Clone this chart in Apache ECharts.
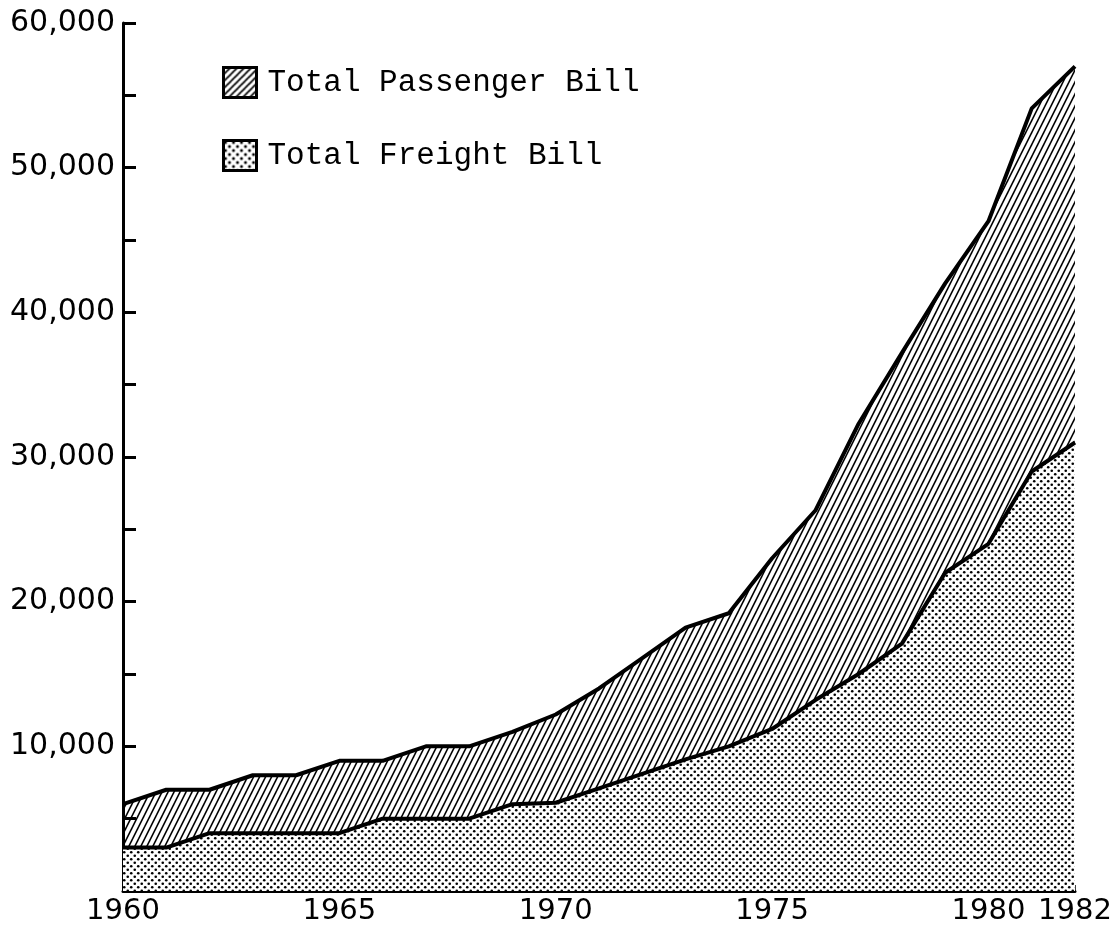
<!DOCTYPE html>
<html>
<head>
<meta charset="utf-8">
<style>
html,body{margin:0;padding:0;background:#fff;}
#chart{width:1119px;height:926px;}
</style>
<script src="https://cdn.jsdelivr.net/npm/echarts@6/dist/echarts.min.js"></script>
</head>
<body>
<div id="chart"></div>
<script>
// ---- data (millions of dollars) ----
const years = ['1960','1961','1962','1963','1964','1965','1966','1967','1968','1969','1970','1971','1972','1973','1974','1975','1976','1977','1978','1979','1980','1981','1982'];
const freightBill = [3000,3000,4000,4000,4000,4000,5000,5000,5000,6000,6100,7100,8100,9100,10000,11200,13200,15000,17100,22000,24000,29000,31000];
const passengerBill = [3000,4000,3000,4000,4000,5000,4000,5000,5000,5000,6100,6900,8000,9100,9200,11800,13100,17300,20100,20000,22300,25100,26000];
const xLabelYears = ['1960','1965','1970','1975','1980','1982'];
const seriesNames = ['Total Passenger Bill','Total Freight Bill'];

// ---- fill patterns ----
function hatchTile(w, h, lw) {
  const c = document.createElement('canvas');
  c.width = w; c.height = h;
  const g = c.getContext('2d');
  g.strokeStyle = '#000'; g.lineWidth = lw; g.lineCap = 'square';
  for (let k = -1; k <= 1; k++) {
    g.beginPath();
    g.moveTo(k * w, h);
    g.lineTo(k * w + w, 0);
    g.stroke();
  }
  return c;
}
function dotTile(s, r) {
  const c = document.createElement('canvas');
  c.width = s; c.height = s;
  const g = c.getContext('2d');
  g.fillStyle = '#fff'; g.fillRect(0, 0, s, s);
  g.fillStyle = '#000';
  [[s/4, s/4], [3*s/4, 3*s/4]].forEach(p => {
    g.beginPath(); g.arc(p[0], p[1], r, 0, Math.PI * 2); g.fill();
  });
  return c;
}
const hatchPlot = { image: hatchTile(6, 12, 1.6), repeat: 'repeat' };
const dotPlot = { image: dotTile(7, 1.3), repeat: 'repeat' };
const hatchLegend = { image: hatchTile(7, 7, 1.7), repeat: 'repeat' };
const dotLegend = { image: dotTile(8, 1.5), repeat: 'repeat' };

const chart = echarts.init(document.getElementById('chart'), null, { renderer: 'canvas' });
const labelFont = 'DejaVu Sans';

chart.setOption({
  animation: false,
  backgroundColor: '#fff',
  grid: { left: 123, right: 44, top: 23, bottom: 34, containLabel: false },
  legend: {
    orient: 'vertical',
    left: 222, top: 66, padding: 0,
    itemWidth: 33, itemHeight: 30, itemGap: 40,
    icon: 'rect',
    textStyle: { fontFamily: 'Liberation Mono', fontSize: 31, color: '#000', padding: [0, 0, 0, 6] },
    data: [
      { name: seriesNames[0], itemStyle: { color: hatchLegend, borderColor: '#000', borderWidth: 3 } },
      { name: seriesNames[1], itemStyle: { color: dotLegend, borderColor: '#000', borderWidth: 3 } }
    ]
  },
  xAxis: {
    type: 'category', data: years, boundaryGap: false,
    axisLine: { show: true, onZero: false, lineStyle: { color: '#000', width: 3 } },
    axisTick: { show: true, inside: true, length: 6, interval: 0, lineStyle: { color: '#000', width: 1.5 } },
    splitLine: { show: false },
    axisLabel: {
      interval: 0, margin: 6, color: '#000', fontFamily: labelFont, fontSize: 29,
      formatter: v => xLabelYears.indexOf(v) >= 0 ? v : ''
    }
  },
  yAxis: {
    type: 'value', min: 0, max: 60000, interval: 5000,
    axisLine: { show: true, lineStyle: { color: '#000', width: 3 } },
    axisTick: { show: true, inside: true, length: 13, lineStyle: { color: '#000', width: 3 } },
    splitLine: { show: false },
    axisLabel: {
      margin: 8, color: '#000', fontFamily: labelFont, fontSize: 30,
      formatter: v => (v > 0 && v % 10000 === 0) ? v.toLocaleString('en-US') : ''
    }
  },
  series: [
    {
      name: seriesNames[1], type: 'line', stack: 'bill', z: 3,
      data: freightBill,
      symbol: 'none',
      lineStyle: { color: '#000', width: 4 },
      itemStyle: { color: '#000' },
      areaStyle: { color: dotPlot, opacity: 1 }
    },
    {
      name: seriesNames[0], type: 'line', stack: 'bill', z: 2,
      data: passengerBill,
      symbol: 'none',
      lineStyle: { color: '#000', width: 4 },
      itemStyle: { color: '#000' },
      areaStyle: { color: hatchPlot, opacity: 1 }
    }
  ]
});
</script>
</body>
</html>
